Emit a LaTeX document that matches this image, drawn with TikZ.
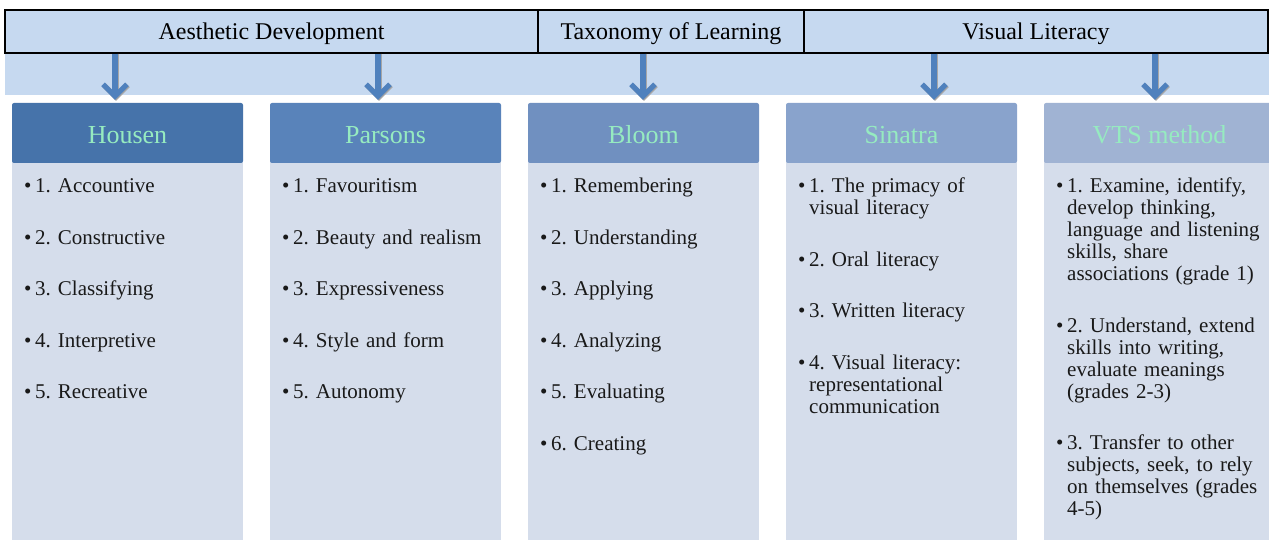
\documentclass[tikz,border=0pt]{standalone}
\usepackage{fontspec}
\setmainfont{Liberation Serif}
\usetikzlibrary{arrows.meta}

\definecolor{bandblue}{RGB}{198,217,240}
\definecolor{arrowblue}{RGB}{79,129,189}
\definecolor{bodyblue}{RGB}{213,221,235}
\definecolor{mint}{RGB}{150,235,192}
\definecolor{hdA}{RGB}{70,115,170}
\definecolor{hdB}{RGB}{89,131,186}
\definecolor{hdC}{RGB}{112,144,192}
\definecolor{hdD}{RGB}{137,163,204}
\definecolor{hdE}{RGB}{160,179,211}

\newcommand{\bul}{\makebox[11pt][l]{\textbullet}}
\newcommand{\ind}{\hspace*{11pt}}

\tikzset{
    topbox/.style={draw=black, line width=1.2pt, fill=bandblue, inner sep=0pt,
        minimum height=43pt, text height=19pt, text depth=3pt,
        font=\fontsize{24}{28}\selectfont},
    header/.style={fill=#1, rounded corners=2pt, inner sep=0pt, minimum width=231pt,
        minimum height=60pt, text height=22.5pt, text depth=1.5pt, text=mint,
        font=\fontsize{26}{30}\selectfont},
    items/.style={anchor=base west, inner sep=0pt, text width=222pt, align=left,
        text=black!90, font=\fontsize{21}{22}\selectfont\frenchspacing},
    flow/.style={line width=6pt, draw=arrowblue, shorten >=3pt,
        -{Straight Barb[length=12pt, width=24pt, line width=5pt]}},
    flowshadow/.style={line width=6pt, draw=black!35, shorten >=3pt,
        -{Straight Barb[length=12pt, width=24pt, line width=5pt]}}
}

\begin{document}
\begin{tikzpicture}[x=1pt, y=-1pt]

    \useasboundingbox (0,0) rectangle (1269,540);
    \clip (0,0) rectangle (1269,540);

    % Light band behind the three titles
    \fill[bandblue] (5,10) rectangle (1269,95);

    % Titles
    \node[topbox, minimum width=533pt] (aes) at (271.5,31.5) {Aesthetic Development};
    \node[topbox, minimum width=266pt] (tax) at (671,31.5) {Taxonomy of Learning};
    \node[topbox, minimum width=464pt] (vis) at (1036,31.5) {Visual Literacy};

    % Column bodies
    \fill[bodyblue] (12,160) rectangle (243,545);
    \fill[bodyblue] (270,160) rectangle (501,545);
    \fill[bodyblue] (528,160) rectangle (759,545);
    \fill[bodyblue] (786,160) rectangle (1017,545);
    \fill[bodyblue] (1044,160) rectangle (1275,545);

    % Column headers
    \node[header=hdA] (hou) at (127.5,133) {Housen};
    \node[header=hdB] (par) at (385.5,133) {Parsons};
    \node[header=hdC] (blo) at (643.5,133) {Bloom};
    \node[header=hdD] (sin) at (901.5,133) {Sinatra};
    \node[header=hdE] (vts) at (1159.5,133) {VTS method};

    % Housen
    \node[items] (houL) at (24,193) {\bul 1. Accountive\\[29.5pt]
        \bul 2. Constructive\\[29.5pt]
        \bul 3. Classifying\\[29.5pt]
        \bul 4. Interpretive\\[29.5pt]
        \bul 5. Recreative};

    % Parsons
    \node[items] (parL) at (282,193) {\bul 1. Favouritism\\[29.5pt]
        \bul 2. Beauty and realism\\[29.5pt]
        \bul 3. Expressiveness\\[29.5pt]
        \bul 4. Style and form\\[29.5pt]
        \bul 5. Autonomy};

    % Bloom
    \node[items] (bloL) at (540,193) {\bul 1. Remembering\\[29.5pt]
        \bul 2. Understanding\\[29.5pt]
        \bul 3. Applying\\[29.5pt]
        \bul 4. Analyzing\\[29.5pt]
        \bul 5. Evaluating\\[29.5pt]
        \bul 6. Creating};

    % Sinatra
    \node[items] (sinL) at (798,193) {\bul 1. The primacy of\\
        \ind visual literacy\\[29.5pt]
        \bul 2. Oral literacy\\[29.5pt]
        \bul 3. Written literacy\\[29.5pt]
        \bul 4. Visual literacy:\\
        \ind representational\\
        \ind communication};

    % VTS method
    \node[items] (vtsL) at (1056,193) {\bul 1. Examine, identify,\\
        \ind develop thinking,\\
        \ind language and listening\\
        \ind skills, share\\
        \ind associations (grade 1)\\[29.5pt]
        \bul 2. Understand, extend\\
        \ind skills into writing,\\
        \ind evaluate meanings\\
        \ind (grades 2-3)\\[29.5pt]
        \bul 3. Transfer to other\\
        \ind subjects, seek, to rely\\
        \ind on themselves (grades\\
        \ind 4-5)};

    % Arrow positions
    \coordinate (a1) at (115,0);
    \coordinate (a2) at (378,0);
    \coordinate (a3) at (643,0);
    \coordinate (a4) at (934,0);
    \coordinate (a5) at (1155,0);

    % Arrows (shadow first)
    \draw[flowshadow] ([xshift=1pt]aes.south -| a1) -- ([xshift=1pt,yshift=-1pt]hou.north -| a1);
    \draw[flowshadow] ([xshift=1pt]aes.south -| a2) -- ([xshift=1pt,yshift=-1pt]par.north -| a2);
    \draw[flowshadow] ([xshift=1pt]tax.south -| a3) -- ([xshift=1pt,yshift=-1pt]blo.north -| a3);
    \draw[flowshadow] ([xshift=1pt]vis.south -| a4) -- ([xshift=1pt,yshift=-1pt]sin.north -| a4);
    \draw[flowshadow] ([xshift=1pt]vis.south -| a5) -- ([xshift=1pt,yshift=-1pt]vts.north -| a5);
    \draw[flow] (aes.south -| a1) -- (hou.north -| a1);
    \draw[flow] (aes.south -| a2) -- (par.north -| a2);
    \draw[flow] (tax.south -| a3) -- (blo.north -| a3);
    \draw[flow] (vis.south -| a4) -- (sin.north -| a4);
    \draw[flow] (vis.south -| a5) -- (vts.north -| a5);

\end{tikzpicture}
\end{document}
